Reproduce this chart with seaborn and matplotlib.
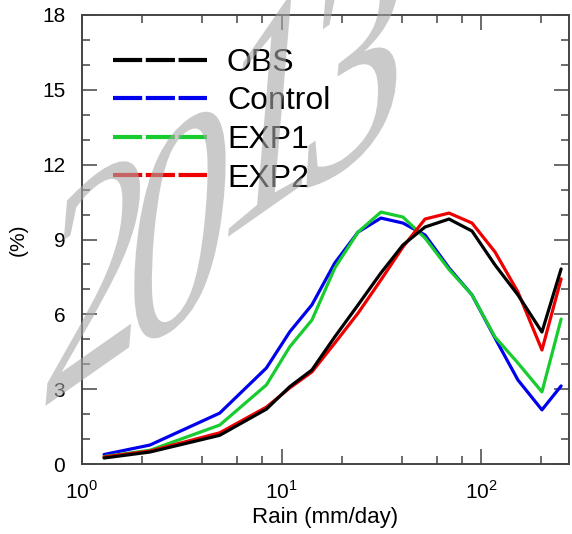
import numpy as np
import pandas as pd
import matplotlib
matplotlib.use("Agg")
import matplotlib.pyplot as plt
import seaborn as sns
from matplotlib.lines import Line2D
from matplotlib.ticker import FixedLocator, NullFormatter, MultipleLocator
from matplotlib.textpath import TextPath
from matplotlib.patches import PathPatch
from matplotlib.font_manager import FontProperties
from matplotlib.transforms import Affine2D

# rain-rate bins (mm/day) and frequency (%)
rain = [1.29, 2.19, 4.9, 8.4, 11.0, 14.2, 18.5, 24.2, 31.5, 40.6, 52.4, 69.1, 90.1, 117.5, 153, 202, 252]
obs = [0.24, 0.48, 1.15, 2.2, 3.1, 3.77, 5.1, 6.38, 7.66, 8.78, 9.5, 9.82, 9.34, 7.98, 6.78, 5.29, 7.82]
control = [0.38, 0.76, 2.04, 3.85, 5.3, 6.38, 8.06, 9.3, 9.86, 9.66, 9.18, 7.86, 6.78, 5.05, 3.37, 2.17, 3.13]
exp1 = [0.3, 0.55, 1.56, 3.17, 4.7, 5.77, 7.86, 9.3, 10.1, 9.9, 9.06, 7.8, 6.78, 5.09, 4.05, 2.89, 5.81]
exp2 = [0.28, 0.52, 1.25, 2.28, 3.05, 3.69, 4.85, 6.05, 7.38, 8.7, 9.82, 10.06, 9.66, 8.5, 6.9, 4.57, 7.42]

names = ["OBS", "Control", "EXP1", "EXP2"]
colors = {"OBS": "black", "Control": "#0000ee", "EXP1": "#18cc30", "EXP2": "#ee0000"}
draw_order = ["Control", "EXP1", "EXP2", "OBS"]

xticks_major = [1, 10, 100]
xticks_minor = [2, 4, 6, 8, 20, 40, 60, 80, 200]
xlabels = ["$10^{0}$", "$10^{1}$", "$10^{2}$"]

# watermark glyphs and rough centres (pixels from top-left)
wm_chars = ["2", "0", "1", "3"]
wm_centres = [(92, 275), (180, 225), (262, 115), (352, 65)]

df = pd.DataFrame({"rain": rain * 4,
                   "pct": obs + control + exp1 + exp2,
                   "run": sum([[n] * len(rain) for n in names], [])})

sns.set_style("ticks")
plt.rcParams["font.family"] = ["Liberation Sans", "DejaVu Sans"]
plt.rcParams["mathtext.fontset"] = "custom"
plt.rcParams["mathtext.rm"] = "Liberation Sans"
plt.rcParams["lines.scale_dashes"] = False
plt.rcParams["text.color"] = "black"
plt.rcParams["axes.labelcolor"] = "black"

fig = plt.figure(figsize=(5.72, 5.34), dpi=100)
ax = fig.add_axes([82 / 572, 1 - 464 / 534, 487 / 572, 449 / 534])

for n in draw_order:
    sns.lineplot(data=df[df.run == n], x="rain", y="pct", color=colors[n],
                 lw=2.3, ax=ax, legend=False, estimator=None, sort=False)

ax.set_xscale("log")
ax.set_xlim(1, 276)
ax.set_ylim(0, 18)
ax.set_xticks(xticks_major)
ax.set_xticklabels(xlabels)
ax.xaxis.set_minor_locator(FixedLocator(xticks_minor))
ax.xaxis.set_minor_formatter(NullFormatter())
ax.yaxis.set_major_locator(MultipleLocator(3))
ax.yaxis.set_minor_locator(MultipleLocator(1))

ax.tick_params(which="both", direction="in", top=True, right=True,
               color="#444444", width=1.1, labelsize=15, labelcolor="black")
ax.tick_params(which="major", length=11, pad=12)
ax.tick_params(which="minor", length=5.5)
for s in ax.spines.values():
    s.set_color("#444444")
    s.set_linewidth(1.4)

ax.set_xlabel("Rain (mm/day)", fontsize=16)
ax.set_ylabel("(%)", fontsize=15)
ax.xaxis.set_label_coords(0.5, -0.095)
ax.yaxis.set_label_coords(-0.112, 0.5)

handles = [Line2D([0], [0], color=colors[n], lw=3, dashes=(21, 2.6), dash_capstyle="butt")
           for n in names]
ax.legend(handles, names, loc="upper left", bbox_to_anchor=(0.064, 0.927),
          frameon=False, fontsize=23, handlelength=2.94, handletextpad=0.62,
          labelspacing=0.27, borderpad=0, borderaxespad=0)

# gray "2013" watermark: sheared serif glyphs lying over the plot
fp = FontProperties(family="Liberation Serif", style="italic")
a, b = 255, 290
t1, t2 = np.radians(35), np.radians(92)
lin = np.array([[a * np.cos(t1), b * np.cos(t2), 0],
                [a * np.sin(t1), b * np.sin(t2), 0],
                [0, 0, 1]])
for ch, (px, py) in zip(wm_chars, wm_centres):
    tp = TextPath((0, 0), ch, size=1, prop=fp)
    ext = tp.get_extents()
    tr = (Affine2D().translate(-(ext.x0 + ext.x1) / 2, -(ext.y0 + ext.y1) / 2)
          + Affine2D(lin) + Affine2D().translate(px, 534 - py))
    fig.add_artist(PathPatch(tp, transform=tr, facecolor="#a8a8a8",
                             edgecolor="none", alpha=0.6, zorder=10))

fig.savefig("out.png", dpi=100, facecolor="white")
